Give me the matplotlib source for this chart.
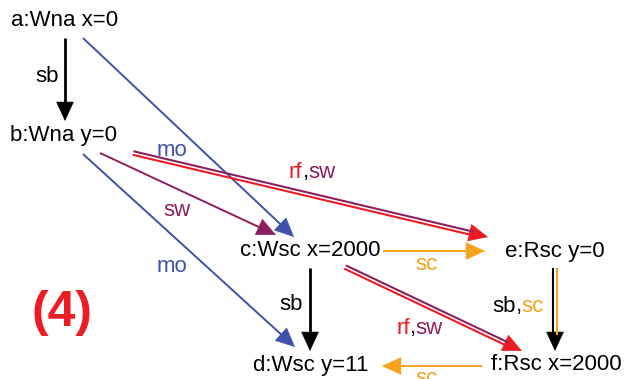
import numpy as np
import matplotlib
matplotlib.use("Agg")
import matplotlib.pyplot as plt
from matplotlib.patches import FancyArrowPatch

plt.rcParams['font.family'] = ['Liberation Sans', 'DejaVu Sans']

BLUE = '#3d52a8'
PURPLE = '#8e1f5e'
RED = '#ec1c24'
ORANGE = '#f7a21b'
BLACK = '#000000'

# nodes: label, centre (pixel coords of the original picture)
node_names = ['a:Wna x=0', 'b:Wna y=0', 'c:Wsc x=2000', 'd:Wsc y=11',
              'e:Rsc y=0', 'f:Rsc x=2000']
node_xy = [(65, 20), (64, 135), (310, 251), (311, 365), (555, 251), (556, 364)]

# edges: start, tip, line colours (two = double line), head colour
edge_start = [(65, 38), (83, 38), (100, 153), (83, 154), (133, 153),
              (383, 251), (310, 268), (345, 267), (555, 268), (482, 366)]
edge_end = [(65, 121), (294, 237), (276, 235), (295, 347), (488, 237),
            (485, 251), (310, 351), (522, 351), (555, 351), (382, 366)]
edge_colors = [[BLACK], [BLUE], [PURPLE], [BLUE], [PURPLE, RED],
               [ORANGE], [BLACK], [PURPLE, RED], [BLACK, ORANGE], [ORANGE]]
head_colors = [BLACK, BLUE, PURPLE, BLUE, RED, ORANGE, BLACK, RED, BLACK, ORANGE]

# edge labels: position (left edge), list of (text, colour)
label_xy = [(35, 77), (157, 150), (289, 172), (163, 211), (157, 267),
            (415, 264), (279, 304), (396, 328), (492, 306), (415, 379)]
label_parts = [[('sb', BLACK)], [('mo', BLUE)],
               [('rf', RED), (',', BLACK), ('sw', PURPLE)],
               [('sw', PURPLE)], [('mo', BLUE)], [('sc', ORANGE)],
               [('sb', BLACK)],
               [('rf', RED), (',', BLACK), ('sw', PURPLE)],
               [('sb', BLACK), (',', BLACK), ('sc', ORANGE)],
               [('sc', ORANGE)]]

fig = plt.figure(figsize=(6.26, 3.79), dpi=100)
ax = fig.add_axes([0, 0, 1, 1])
ax.set_xlim(0, 626)
ax.set_ylim(379, 0)
ax.axis('off')

FS = 16

for name, (x, y) in zip(node_names, node_xy):
    ax.text(x, y, name, fontsize=FS, ha='center', va='center', color=BLACK)

head_len = 18.0
for s, e, cols, hc in zip(edge_start, edge_end, edge_colors, head_colors):
    s = np.array(s, float)
    e = np.array(e, float)
    d = e - s
    u = d / np.hypot(*d)
    base = e - u * head_len
    lw = 2.0 if hc == BLACK and len(cols) == 1 else 1.4
    if len(cols) == 1:
        ax.plot([s[0], base[0] + u[0] * 2], [s[1], base[1] + u[1] * 2],
                color=cols[0], lw=lw, solid_capstyle='butt')
    else:
        n = np.array([u[1], -u[0]])
        if n[1] > 0:
            n = -n
        if abs(u[0]) < 0.01:
            n = np.array([-1.0, 0.0])
        for c, off in zip(cols, [1.8, -1.8]):
            p0 = s + n * off
            p1 = base + u * 2 + n * off
            ax.plot([p0[0], p1[0]], [p0[1], p1[1]], color=c, lw=1.5,
                    solid_capstyle='butt')
    arr = FancyArrowPatch(tuple(base), tuple(e),
                          arrowstyle='-|>,head_length=0.65,head_width=0.3',
                          mutation_scale=20, color=hc, lw=0.5,
                          shrinkA=0, shrinkB=0)
    ax.add_patch(arr)

for (x, y), parts in zip(label_xy, label_parts):
    t = ax.text(x, y, parts[0][0], fontsize=FS, color=parts[0][1],
                ha='left', va='center')
    for txt, c in parts[1:]:
        t = ax.annotate(txt, xy=(1, 0), xycoords=t, fontsize=FS, color=c,
                        ha='left', va='bottom')

ax.text(62, 313, '(4)', fontsize=36, fontweight='bold', color=RED,
        ha='center', va='center')

fig.savefig('out.png', dpi=100)
